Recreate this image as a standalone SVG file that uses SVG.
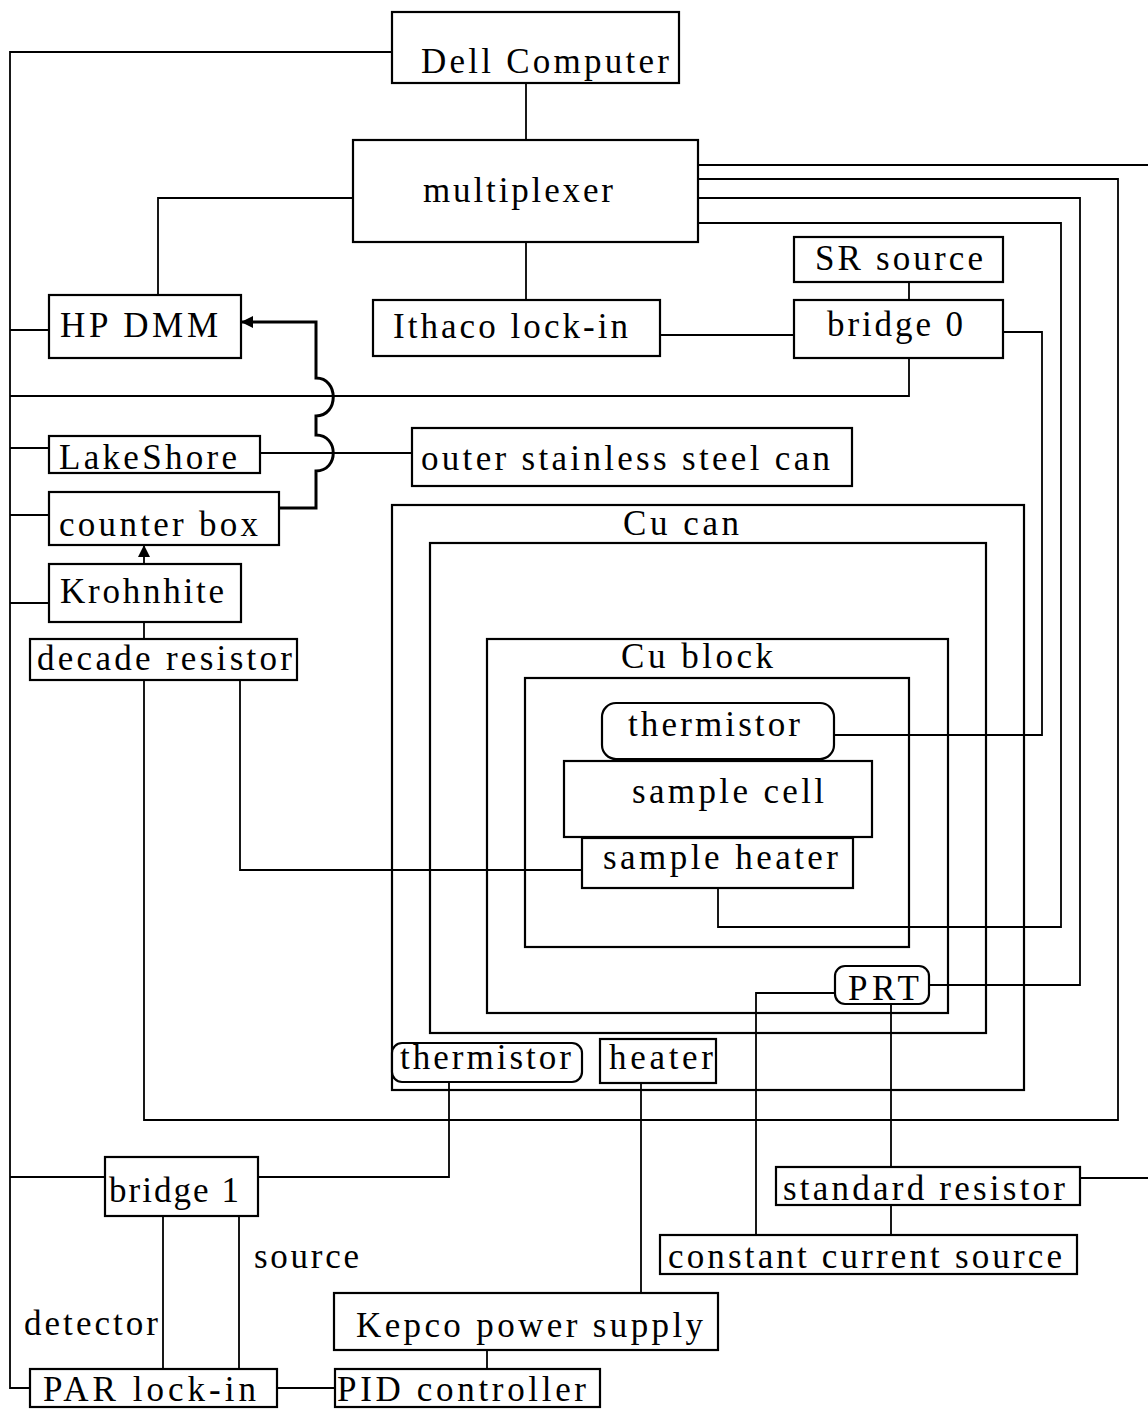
<svg xmlns="http://www.w3.org/2000/svg" width="1148" height="1409" viewBox="0 0 1148 1409">
<style>
.b{fill:#fff;stroke:#000;stroke-width:2.2}
.k{fill:none;stroke:#000;stroke-width:2.2}
.w{fill:none;stroke:#000;stroke-width:1.8}
.thick{fill:none;stroke:#000;stroke-width:3}
.t{font-family:"Liberation Serif","Times New Roman",serif;font-size:35px;fill:#000}
</style>
<defs>
<marker id="ah" markerUnits="userSpaceOnUse" markerWidth="12" markerHeight="12" refX="11" refY="6" orient="auto">
<path d="M0,0 L12,6 L0,12 z" fill="#000"/>
</marker>
</defs>
<rect width="1148" height="1409" fill="#fff"/>
<g id="containers">
<rect class="k" x="392" y="505" width="632" height="585"/>
<rect class="k" x="430" y="543" width="556" height="490"/>
<rect class="k" x="487" y="639" width="461" height="374"/>
<rect class="k" x="525" y="678" width="384" height="269"/>
<text class="t" x="623" y="535" textLength="116" lengthAdjust="spacing">Cu can</text>
<text class="t" x="621" y="668" textLength="152" lengthAdjust="spacing">Cu block</text>
</g>
<g id="connectors">
<path class="w" d="M392,52 H10 V1388 H30"/>
<path class="w" d="M10,330 H49 M10,448 H49 M10,515 H49 M10,603 H49 M10,1177 H105"/>
<path class="w" d="M10,396 H909 V358"/>
<path class="w" d="M526,83 V140"/>
<path class="w" d="M353,198 H158 V295"/>
<path class="w" d="M526,242 V300"/>
<path class="w" d="M660,335 H794"/>
<path class="w" d="M909,282 V300"/>
<path class="w" d="M1003,332 H1042 V735 H834"/>
<path class="w" d="M698,165 H1148"/>
<path class="w" d="M698,179 H1118 V1120 H144 V680"/>
<path class="w" d="M698,198 H1080 V985 H929"/>
<path class="w" d="M698,223 H1061 V927 H718 V888"/>
<path class="w" d="M240,680 V870 H582"/>
<path class="w" d="M260,453 H412"/>
<path class="w" d="M144,622 V639"/>
<path class="w" d="M144,564 V546" marker-end="url(#ah)"/>
<path class="thick" d="M279,508 H316 V471 C339,471 339,435 316,435 V416 C339,416 339,378 316,378 V322 H242" marker-end="url(#ah)"/>
<path class="w" d="M835,993 H756 V1235"/>
<path class="w" d="M891,1004 V1167 M891,1205 V1235"/>
<path class="w" d="M1080,1178 H1148"/>
<path class="w" d="M449,1082 V1177 H258"/>
<path class="w" d="M641,1083 V1293"/>
<path class="w" d="M163,1216 V1369 M239,1216 V1369"/>
<path class="w" d="M487,1350 V1369"/>
<path class="w" d="M277,1388 H335"/>
</g>
<g id="dell"><rect class="b" x="392" y="12" width="287" height="71"/><text class="t" x="421" y="73" textLength="248" lengthAdjust="spacing">Dell Computer</text></g>
<g id="multiplexer"><rect class="b" x="353" y="140" width="345" height="102"/><text class="t" x="423" y="202" textLength="190" lengthAdjust="spacing">multiplexer</text></g>
<g id="hpdmm"><rect class="b" x="49" y="295" width="192" height="63"/><text class="t" x="60" y="337" textLength="158" lengthAdjust="spacing">HP DMM</text></g>
<g id="ithaco"><rect class="b" x="373" y="300" width="287" height="56"/><text class="t" x="393" y="338" textLength="235" lengthAdjust="spacing">Ithaco lock-in</text></g>
<g id="srsource"><rect class="b" x="794" y="237" width="209" height="45"/><text class="t" x="815" y="270" textLength="168" lengthAdjust="spacing">SR source</text></g>
<g id="bridge0"><rect class="b" x="794" y="300" width="209" height="58"/><text class="t" x="827" y="336" textLength="136" lengthAdjust="spacing">bridge 0</text></g>
<g id="lakeshore"><rect class="b" x="49" y="436" width="211" height="37"/><text class="t" x="59" y="469" textLength="178" lengthAdjust="spacing">LakeShore</text></g>
<g id="counterbox"><rect class="b" x="49" y="492" width="230" height="53"/><text class="t" x="59" y="536" textLength="199" lengthAdjust="spacing">counter box</text></g>
<g id="krohnhite"><rect class="b" x="49" y="564" width="192" height="58"/><text class="t" x="60" y="603" textLength="164" lengthAdjust="spacing">Krohnhite</text></g>
<g id="decade"><rect class="b" x="30" y="639" width="267" height="41"/><text class="t" x="37" y="670" textLength="255" lengthAdjust="spacing">decade resistor</text></g>
<g id="outercan"><rect class="b" x="412" y="428" width="440" height="58"/><text class="t" x="421" y="470" textLength="409" lengthAdjust="spacing">outer stainless steel can</text></g>
<g id="thermistor1"><rect class="b" x="602" y="703" width="232" height="56" rx="14"/><text class="t" x="628" y="736" textLength="172" lengthAdjust="spacing">thermistor</text></g>
<g id="samplecell"><rect class="b" x="564" y="761" width="308" height="76"/><text class="t" x="632" y="803" textLength="192" lengthAdjust="spacing">sample cell</text></g>
<g id="sampleheater"><rect class="b" x="582" y="838" width="271" height="50"/><text class="t" x="603" y="869" textLength="235" lengthAdjust="spacing">sample heater</text></g>
<g id="prt"><rect class="b" x="835" y="966" width="94" height="38" rx="10"/><text class="t" x="848" y="1000" textLength="71" lengthAdjust="spacing">PRT</text></g>
<g id="thermistor2"><rect class="b" x="392" y="1043" width="190" height="39" rx="10"/><text class="t" x="400" y="1069" textLength="171" lengthAdjust="spacing">thermistor</text></g>
<g id="heater"><rect class="b" x="600" y="1039" width="116" height="44"/><text class="t" x="609" y="1069" textLength="104" lengthAdjust="spacing">heater</text></g>
<g id="bridge1"><rect class="b" x="105" y="1157" width="153" height="59"/><text class="t" x="109" y="1202" textLength="130" lengthAdjust="spacing">bridge 1</text></g>
<g id="labels"><text class="t" x="254" y="1268" textLength="105" lengthAdjust="spacing">source</text><text class="t" x="24" y="1335" textLength="134" lengthAdjust="spacing">detector</text></g>
<g id="kepco"><rect class="b" x="334" y="1293" width="384" height="57"/><text class="t" x="356" y="1337" textLength="347" lengthAdjust="spacing">Kepco power supply</text></g>
<g id="par"><rect class="b" x="30" y="1369" width="247" height="38"/><text class="t" x="43" y="1401" textLength="213" lengthAdjust="spacing">PAR lock-in</text></g>
<g id="pid"><rect class="b" x="335" y="1369" width="265" height="38"/><text class="t" x="337" y="1401" textLength="249" lengthAdjust="spacing">PID controller</text></g>
<g id="stdres"><rect class="b" x="776" y="1167" width="304" height="38"/><text class="t" x="783" y="1200" textLength="282" lengthAdjust="spacing">standard resistor</text></g>
<g id="ccs"><rect class="b" x="660" y="1235" width="417" height="39"/><text class="t" x="668" y="1268" textLength="394" lengthAdjust="spacing">constant current source</text></g>
</svg>
